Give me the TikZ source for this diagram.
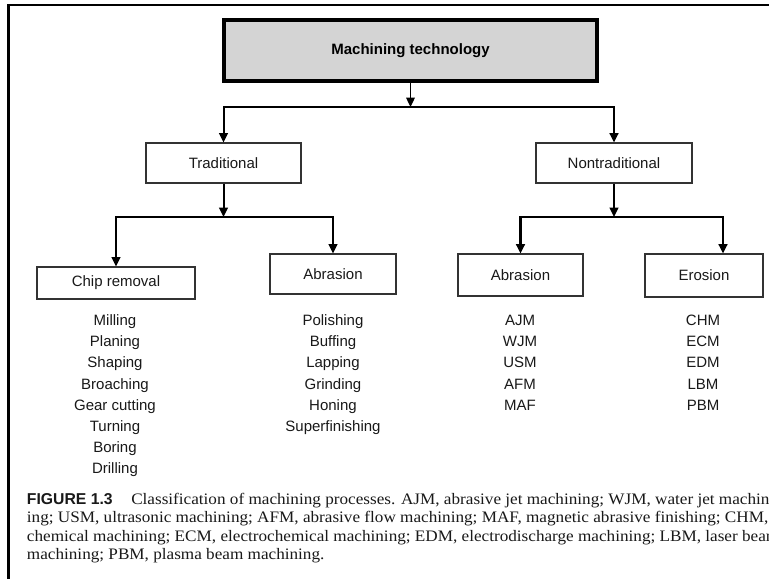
\documentclass[tikz,border=0pt]{standalone}
\usepackage{fontspec}
\setmainfont{Liberation Serif}
\setsansfont{Liberation Sans}
\usetikzlibrary{arrows.meta}
\newdimen\pxu \pxu=0.75pt
\newdimen\capw
% width of the widest caption line, used to set the caption's horizontal scale
\AtBeginDocument{%
  \setbox0=\hbox{\rmfamily\fontsize{12}{14}\selectfont ing; USM, ultrasonic machining; AFM, abrasive flow machining; MAF, magnetic abrasive finishing; CHM}%
  \global\capw=\wd0
  \pgfmathsetmacro\capscale{552.75/\the\capw}%
  \xdef\capscale{\capscale}}
\begin{document}
\begin{tikzpicture}[x=0.75pt,y=-0.75pt,
  lbl/.style={font=\sffamily\fontsize{11.25}{13}\selectfont, text=black!90},
  box/.style={lbl, draw=black!80, line width=0.8pt, inner sep=0pt},
  topbox/.style={draw=black, line width=2.3pt, fill=black!17, inner sep=0pt,
    minimum width=373\pxu, minimum height=61\pxu,
    font=\sffamily\bfseries\fontsize{11.25}{13}\selectfont},
  conn/.style={line width=1.5pt, -{Triangle[length=7pt,width=6.5pt]}},
  connthin/.style={conn, line width=0.9pt},
  connthick/.style={conn, line width=2pt},
  item/.style={lbl, anchor=base, inner sep=0pt},
  capt/.style={anchor=base west, inner sep=0pt, text=black!90,
    font=\rmfamily\fontsize{12}{14}\selectfont},
]
% page area and frame
\clip (0,0) rectangle (769,579);
\fill[white] (0,0) rectangle (769,579);
\draw[line width=2pt] (780,5) -| (8.7,590);

% boxes
\node[topbox] (top) at (410.5,50.5) {Machining technology};
\node[box, minimum width=155\pxu, minimum height=40\pxu] (trad) at (223.5,163) {Traditional};
\node[box, minimum width=156\pxu, minimum height=40\pxu] (nontrad) at (614,163) {Nontraditional};
\node[box, minimum width=158\pxu, minimum height=32\pxu] (chip) at (116,283) {Chip removal};
\node[box, minimum width=126\pxu, minimum height=40\pxu] (abr1) at (333,274) {Abrasion};
\node[box, minimum width=125\pxu, minimum height=42\pxu] (abr2) at (520.5,275) {Abrasion};
\node[box, minimum width=118\pxu, minimum height=43\pxu] (ero) at (704,275.5) {Erosion};

% junction points
\coordinate (j1) at (410.5,107);
\coordinate (j2) at (223.5,217);
\coordinate (j3) at (614,217);
\coordinate (eroin) at ([xshift=19\pxu]ero.north);

% connectors
\draw[connthin] (top.south) -- (j1);
\draw[conn] (j1) -| (trad);
\draw[connthick] (j1) -| (nontrad);
\draw[conn] (trad.south) -- (j2);
\draw[conn] (j2) -| (chip);
\draw[conn] (j2) -| (abr1);
\draw[conn] (nontrad.south) -- (j3);
\draw[connthick] (j3) -| (abr2);
\draw[connthick] (j3) -| (eroin);

% process lists
\foreach \t [count=\i] in {Milling,Planing,Shaping,Broaching,Gear cutting,Turning,Boring,Drilling}
  \node[item] (chip\i) at (115,325.7+21.1*\i-21.1) {\t};
\foreach \t [count=\i] in {Polishing,Buffing,Lapping,Grinding,Honing,Superfinishing}
  \node[item] (abra\i) at (333,325.7+21.1*\i-21.1) {\t};
\foreach \t [count=\i] in {AJM,WJM,USM,AFM,MAF}
  \node[item] (abrb\i) at (520,325.7+21.1*\i-21.1) {\t};
\foreach \t [count=\i] in {CHM,ECM,EDM,LBM,PBM}
  \node[item] (ero\i) at (703,325.7+21.1*\i-21.1) {\t};

% caption
\node[capt, font=\sffamily\bfseries\fontsize{11.8}{14}\selectfont] (figno) at (26.7,504) {FIGURE 1.3};
\node[capt] (cap1) at (131,504) {\scalebox{\capscale}[1]{Classification of machining processes. AJM, abrasive jet machining; WJM, water jet machin-}};
\node[capt] (cap2) at (26.7,522.5) {\scalebox{\capscale}[1]{ing; USM, ultrasonic machining; AFM, abrasive flow machining; MAF, magnetic abrasive finishing; CHM,}};
\node[capt] (cap3) at (26.7,541) {\scalebox{\capscale}[1]{chemical machining; ECM, electrochemical machining; EDM, electrodischarge machining; LBM, laser beam}};
\node[capt] (cap4) at (26.7,559.5) {\scalebox{\capscale}[1]{machining; PBM, plasma beam machining.}};
\end{tikzpicture}
\end{document}
